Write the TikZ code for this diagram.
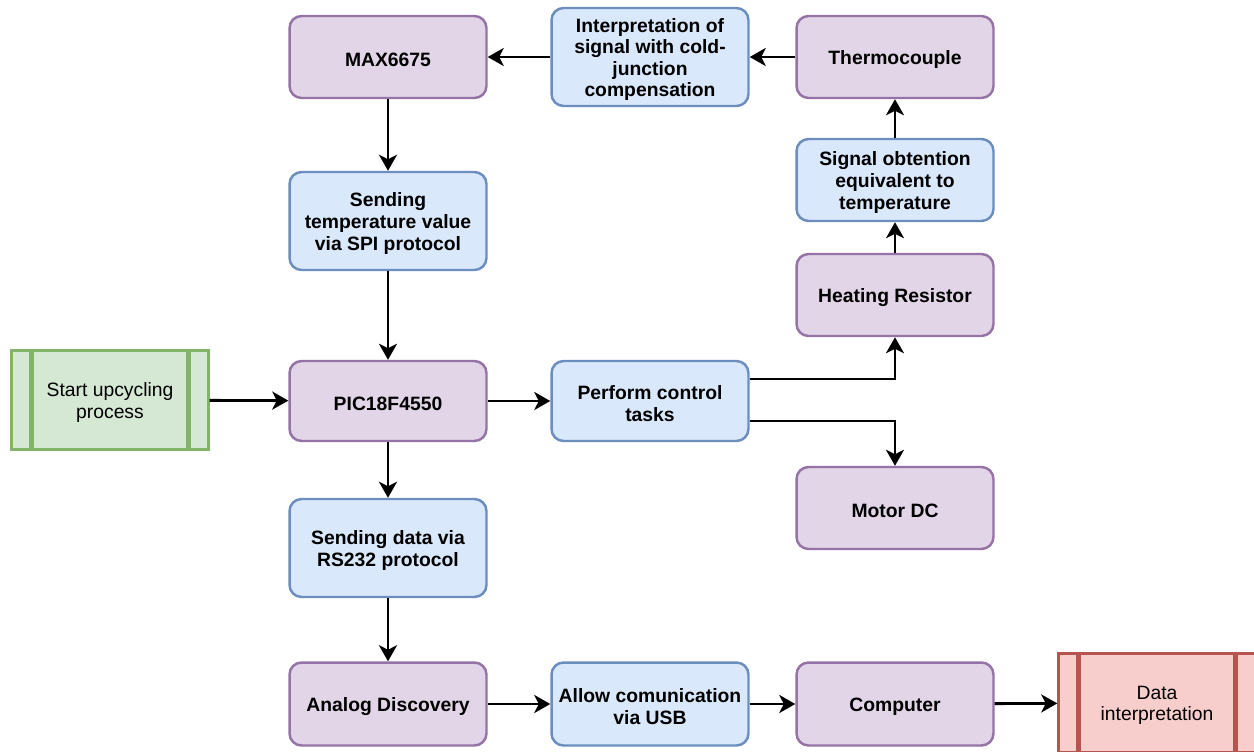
\documentclass[tikz,border=0pt]{standalone}
\usepackage{fontspec}
\setmainfont{Liberation Sans}
\usetikzlibrary{arrows.meta}
\definecolor{pfill}{HTML}{E1D5E7}
\definecolor{pline}{HTML}{9673A6}
\definecolor{bfill}{HTML}{DAE8FC}
\definecolor{bline}{HTML}{6C8EBF}
\definecolor{gfill}{HTML}{D5E8D4}
\definecolor{gline}{HTML}{82B366}
\definecolor{rfill}{HTML}{F8CECC}
\definecolor{rline}{HTML}{B85450}
\tikzset{
  box/.style={draw, rounded corners=0.24cm, line width=1.4pt, minimum width=3.94cm},
  pbox/.style={box, fill=pfill, draw=pline, minimum height=1.64cm},
  bbox/.style={box, fill=bfill, draw=bline, minimum height=1.96cm},
  txt/.style={align=center, font=\fontsize{11}{12.3}\selectfont\bfseries, inner sep=0pt},
  ptxt/.style={align=center, font=\fontsize{11}{12.3}\selectfont, inner sep=0pt},
  procbox/.style={draw=#1, line width=1.4pt, minimum width=3.94cm, minimum height=1.98cm,
    path picture={\draw[#1, line width=2.8pt]
      ([xshift=0.4cm]path picture bounding box.north west) -- ([xshift=0.4cm]path picture bounding box.south west)
      ([xshift=-0.4cm]path picture bounding box.north east) -- ([xshift=-0.4cm]path picture bounding box.south east);}},
  conn/.style={line width=1.6pt, -{Stealth[length=0.32cm, width=0.36cm, inset=0.09cm]}}
}
\newcommand{\bx}[5][txt]{%
  \node[#2] (#3) at #4 {};
  \node[#1] (#3-t) at ([yshift=-0.05cm]#3.center) {#5};}
\begin{document}
\begin{tikzpicture}[x=0.02cm, y=-0.02cm]
\useasboundingbox (0,0) rectangle (1254,751);
\clip (0,0) rectangle (1254,751);
\bx{pbox}{max}{(388,57)}{MAX6675}
\bx{bbox}{interp}{(650,57)}{Interpretation of\\signal with cold-\\junction\\compensation}
\bx{pbox}{thermo}{(895,57)}{Thermocouple}
\bx{bbox}{stemp}{(388,221)}{Sending\\temperature value\\via SPI protocol}
\bx{bbox, minimum height=1.64cm}{sig}{(895,180)}{Signal obtention\\equivalent to\\temperature}
\bx{pbox}{heat}{(895,295)}{Heating Resistor}
\bx[ptxt]{procbox=gline, fill=gfill}{start}{(110,400)}{Start upcycling\\process}
\bx{pbox, minimum height=1.6cm}{pic}{(388,401)}{PIC18F4550}
\bx{bbox, minimum height=1.6cm}{perf}{(650,401)}{Perform control\\tasks}
\bx{pbox}{motor}{(895,508)}{Motor DC}
\bx{bbox}{sdata}{(388,548)}{Sending data via\\RS232 protocol}
\bx{pbox, minimum height=1.66cm}{analog}{(388,704)}{Analog Discovery}
\bx{bbox, minimum height=1.66cm}{allow}{(650,704)}{Allow comunication\\via USB}
\bx{pbox, minimum height=1.66cm}{comp}{(895,704)}{Computer}
\bx[ptxt]{procbox=rline, fill=rfill}{data}{(1157,703)}{Data\\interpretation}

\draw[conn] (thermo) -- (interp);
\draw[conn] (interp) -- (max);
\draw[conn] (max) -- (stemp);
\draw[conn] (stemp) -- (pic);
\draw[conn] (start) -- (pic);
\draw[conn] (pic) -- (perf);
\draw[conn] (pic) -- (sdata);
\draw[conn] (sdata) -- (analog);
\draw[conn] (analog) -- (allow);
\draw[conn] (allow) -- (comp);
\draw[conn] (comp) -- (data);
\draw[conn] (heat) -- (sig);
\draw[conn] (sig) -- (thermo);
\draw[conn] (perf.east |- 0,379) -| (heat.south);
\draw[conn] (perf.east |- 0,421) -| (motor.north);
\end{tikzpicture}
\end{document}
